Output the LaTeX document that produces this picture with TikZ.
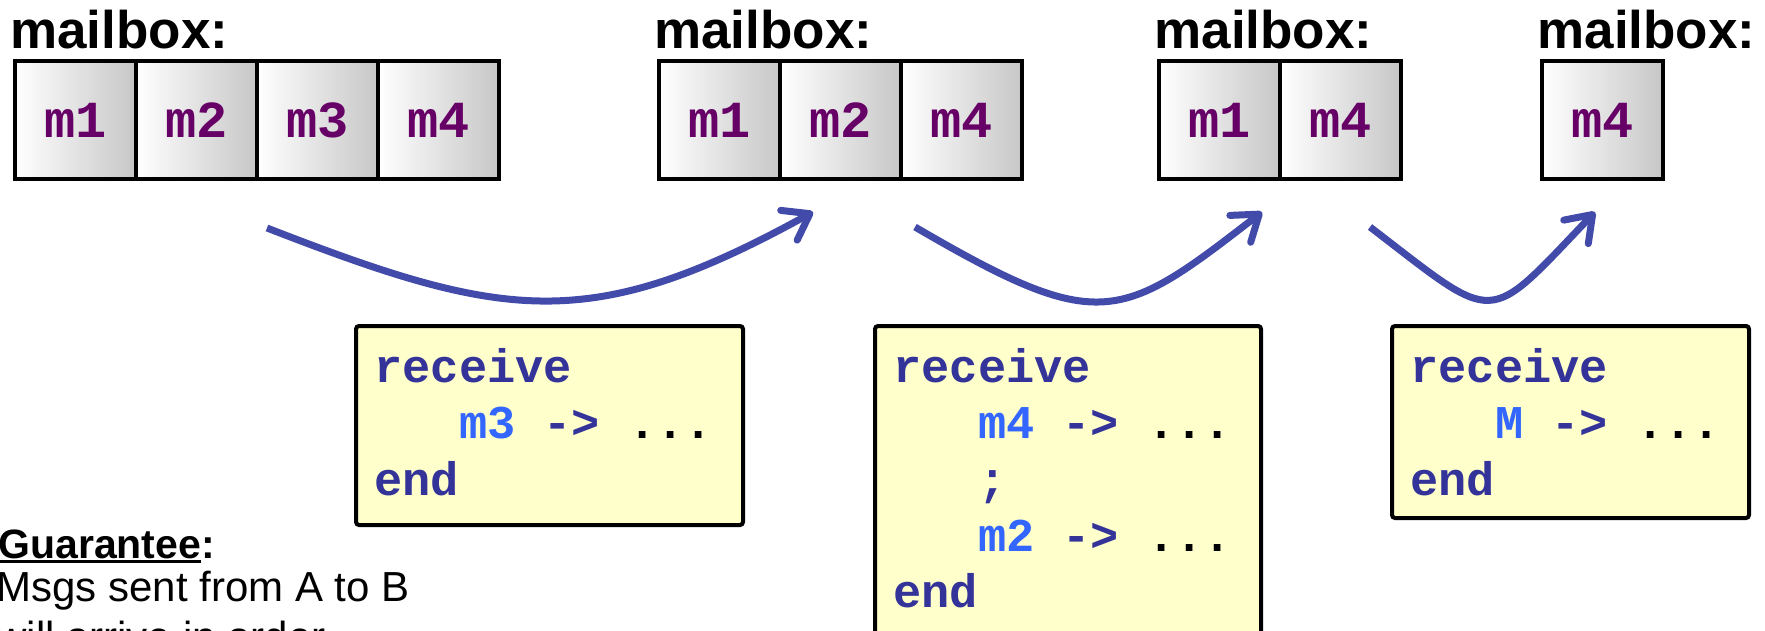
\documentclass[tikz,border=0pt]{standalone}
\usepackage{fontspec}
\setmainfont{Liberation Sans}
\setmonofont{Liberation Mono}
\usetikzlibrary{positioning,calc,arrows.meta}

\definecolor{msgpurple}{HTML}{660066}
\definecolor{codeblue}{HTML}{333399}
\definecolor{patblue}{HTML}{3366FF}
\definecolor{flowblue}{HTML}{434BAA}
\definecolor{notepaper}{HTML}{FFFFCC}

\newcommand{\cstrut}{\rule[-8pt]{0pt}{26pt}}
\newcommand{\pat}[1]{\textcolor{patblue}{#1}}
\newcommand{\etc}{\textcolor{black}{...}}
\newcommand{\ulword}[1]{\setbox0\hbox{#1}\rlap{\rule[-2.5pt]{\wd0}{1.5pt}}\box0}

\tikzset{
  flow/.style={draw=flowblue, line width=3.5pt, -{Straight Barb[length=12pt,width=17pt,round]}},
}

\begin{document}
\begin{tikzpicture}[x=0.5pt, y=-0.5pt]
        \tikzstyle{cell}=[draw=black, line width=2pt, outer sep=0pt, left color=white, right color=black!22, minimum width=60.5pt, minimum height=59pt, inner sep=0pt, text=msgpurple, font=\fontsize{26pt}{30pt}\selectfont\ttfamily\bfseries]
        \tikzstyle{boxlabel}=[anchor=base west, inner sep=0pt, font=\fontsize{26.5pt}{30pt}\selectfont\bfseries]
        \tikzstyle{codebox}=[draw=black, line width=2pt, fill=notepaper, rounded corners=1.5pt, outer sep=0pt, anchor=north west]
        \tikzstyle{code}=[anchor=north west, inner sep=0pt, align=left, text=codeblue, font=\fontsize{23.5pt}{28.15pt}\selectfont\ttfamily\bfseries]
        \tikzstyle{note}=[anchor=base west, inner sep=0pt, font=\fontsize{21pt}{24pt}\selectfont]

        \path[use as bounding box, clip] (0,0) rectangle (1765,631);

        \node[cell, anchor=north west] (A_1) at (15,61) {m1};
        \node[cell, right=0pt of A_1] (A_2) {m2};
        \node[cell, right=0pt of A_2] (A_3) {m3};
        \node[cell, right=0pt of A_3] (A_4) {m4};
        \node[boxlabel] (L_1) at ($(A_1.north west)+(-5,-12)$) {mailbox:};

        \node[cell, anchor=north west] (B_1) at (659,61) {m1};
        \node[cell, right=0pt of B_1] (B_2) {m2};
        \node[cell, right=0pt of B_2] (B_3) {m4};
        \node[boxlabel] (L_2) at ($(B_1.north west)+(-5,-12)$) {mailbox:};

        \node[cell, anchor=north west] (C_1) at (1159,61) {m1};
        \node[cell, right=0pt of C_1] (C_2) {m4};
        \node[boxlabel] (L_3) at ($(C_1.north west)+(-5,-12)$) {mailbox:};

        \node[cell, anchor=north west] (D_1) at (1542,61) {m4};
        \node[boxlabel] (L_4) at ($(D_1.north west)+(-5,-12)$) {mailbox:};

        \coordinate (S_1) at (267,228);
        \coordinate (T_1) at (813,212);
        \coordinate (S_2) at (915,227);
        \coordinate (T_2) at (1262,212);
        \coordinate (S_3) at (1370,227);
        \coordinate (T_3) at (1595,212);
        \draw[flow] (S_1) .. controls (504,320) and (590,335) .. (T_1);
        \draw[flow] (S_2) .. controls (1100,335) and (1120,322) .. (T_2);
        \draw[flow] (S_3) .. controls (1499,326) and (1485,327) .. (T_3);

        \node[codebox, minimum width=193.5pt, minimum height=99.5pt] (R_1) at (356,326) {};
        \node[code] (R_1text) at ($(R_1.north west)+(18,20)$) {\cstrut receive\\
          \cstrut\hphantom{xxx}\pat{m3} -> \etc\\
          \cstrut end};

        \node[codebox, minimum width=193pt, minimum height=170pt] (R_2) at (875,326) {};
        \node[code] (R_2text) at ($(R_2.north west)+(18,20)$) {\cstrut receive\\
          \cstrut\hphantom{xxx}\pat{m4} -> \etc\\
          \cstrut\hphantom{xxx};\\
          \cstrut\hphantom{xxx}\pat{m2} -> \etc\\
          \cstrut end};

        \node[codebox, minimum width=178.5pt, minimum height=96pt] (R_3) at (1392,326) {};
        \node[code] (R_3text) at ($(R_3.north west)+(18,20)$) {\cstrut receive\\
          \cstrut\hphantom{xxx}\pat{M} -> \etc\\
          \cstrut end};

        \node[note, font=\fontsize{20.5pt}{24pt}\selectfont\bfseries] (G_1) at (-2,558) {\ulword{Guarantee}:};
        \node[note] (G_2) at (-4,601) {Msgs sent from A to B};
        \node[note] (G_3) at (-4,651) {will arrive in order};
\end{tikzpicture}
\end{document}
